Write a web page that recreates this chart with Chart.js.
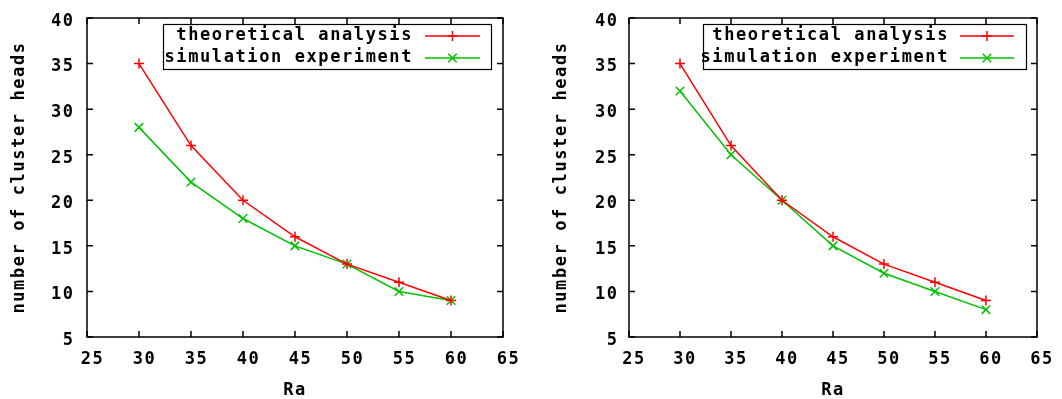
<!DOCTYPE html>
<html>
<head>
<meta charset="utf-8">
<script src="https://cdn.jsdelivr.net/npm/chart.js@4.4.0/dist/chart.umd.min.js"></script>
<style>
  html, body { margin: 0; padding: 0; background: #ffffff; }
  body { width: 1062px; height: 399px; position: relative; overflow: hidden; }
  .wrap { position: absolute; top: 0; height: 399px; }
</style>
</head>
<body>
<div class="wrap" style="left:0px;width:530px;"><canvas id="leftChart" width="530" height="399"></canvas></div>
<div class="wrap" style="left:530px;width:532px;"><canvas id="rightChart" width="532" height="399"></canvas></div>
<script>
// ---- data ----
const ra = [30, 35, 40, 45, 50, 55, 60];
const leftTheoretical = [35, 26, 20, 16, 13, 11, 9];
const leftSimulation = [28, 22, 18, 15, 13, 10, 9];
const rightTheoretical = [35, 26, 20, 16, 13, 11, 9];
const rightSimulation = [32, 25, 20, 15, 12, 10, 8];
const seriesLabels = ['theoretical analysis', 'simulation experiment'];
const xTitle = 'Ra';
const yTitle = 'number of cluster heads';
const xRange = [25, 65];
const yRange = [5, 40];
const tickStep = 5;

// ---- styles ----
const FONT_FAMILY = '"DejaVu Sans Mono", "Liberation Mono", monospace';
const FONT_SIZE = 17;
const LETTER_SPACING = '1.6px';
const RED = '#ff0000';
const GREEN = '#00c000';

function toPoints(xs, ys) { return xs.map((x, i) => ({ x: x, y: ys[i] })); }

function makeChart(canvasId, theo, sim, geo) {
  const ctx = document.getElementById(canvasId).getContext('2d');
  const spacingPlugin = {
    id: 'spacing',
    beforeLayout(chart) { chart.ctx.letterSpacing = LETTER_SPACING; },
    beforeDraw(chart) { chart.ctx.letterSpacing = LETTER_SPACING; }
  };
  const framePlugin = {
    id: 'frame',
    beforeDatasetsDraw(chart) {
      const c = chart.ctx;
      const a = chart.chartArea;
      const xs = chart.scales.x, ys = chart.scales.y;
      c.save();
      c.strokeStyle = '#000000';
      c.lineWidth = 1.5;
      c.strokeRect(a.left, a.top, a.right - a.left, a.bottom - a.top);
      const tl = 6;
      c.beginPath();
      xs.ticks.forEach(t => {
        const px = xs.getPixelForValue(t.value);
        c.moveTo(px, a.bottom); c.lineTo(px, a.bottom - tl);
        c.moveTo(px, a.top); c.lineTo(px, a.top + tl);
      });
      ys.ticks.forEach(t => {
        const py = ys.getPixelForValue(t.value);
        c.moveTo(a.left, py); c.lineTo(a.left + tl, py);
        c.moveTo(a.right, py); c.lineTo(a.right - tl, py);
      });
      c.stroke();
      c.restore();
    },
    afterDatasetsDraw(chart) {
      const c = chart.ctx;
      const L = geo.legend;
      c.save();
      c.letterSpacing = LETTER_SPACING;
      c.strokeStyle = '#000000';
      c.lineWidth = 1.2;
      c.strokeRect(L.box[0] + 0.5, L.box[1] + 0.5, L.box[2] - L.box[0], L.box[3] - L.box[1]);
      c.font = 'bold ' + FONT_SIZE + 'px ' + FONT_FAMILY;
      c.fillStyle = '#000000';
      c.textAlign = 'right';
      c.textBaseline = 'middle';
      chart.data.datasets.forEach((ds, i) => {
        const yy = L.rows[i];
        c.fillText(ds.label, L.textRight, yy);
        c.strokeStyle = ds.borderColor;
        c.lineWidth = 1.5;
        c.beginPath();
        c.moveTo(L.sample[0], yy); c.lineTo(L.sample[1], yy);
        c.stroke();
        const mx = (L.sample[0] + L.sample[1]) / 2, r = 5;
        c.beginPath();
        if (ds.pointStyle === 'cross') {
          c.moveTo(mx - r, yy); c.lineTo(mx + r, yy);
          c.moveTo(mx, yy - r); c.lineTo(mx, yy + r);
        } else {
          const d = 6 * 0.7071;
          c.moveTo(mx - d, yy - d); c.lineTo(mx + d, yy + d);
          c.moveTo(mx - d, yy + d); c.lineTo(mx + d, yy - d);
        }
        c.stroke();
      });
      c.restore();
    }
  };
  const tickFont = { family: FONT_FAMILY, size: FONT_SIZE, weight: 'bold' };
  return new Chart(ctx, {
    type: 'line',
    data: {
      datasets: [
        {
          label: seriesLabels[0],
          data: toPoints(ra, theo),
          borderColor: RED, backgroundColor: RED,
          borderWidth: 1.5, pointStyle: 'cross', pointRadius: 5,
          pointBorderWidth: 1.5, pointBorderColor: RED, tension: 0, fill: false
        },
        {
          label: seriesLabels[1],
          data: toPoints(ra, sim),
          borderColor: GREEN, backgroundColor: GREEN,
          borderWidth: 1.5, pointStyle: 'crossRot', pointRadius: 6,
          pointBorderWidth: 1.5, pointBorderColor: GREEN, tension: 0, fill: false
        }
      ]
    },
    options: {
      responsive: false,
      animation: false,
      devicePixelRatio: 1,
      layout: { padding: { left: 0, right: geo.width - geo.plotRight, top: 18, bottom: 0 } },
      plugins: { legend: { display: false }, tooltip: { enabled: false }, title: { display: false } },
      scales: {
        x: {
          type: 'linear', min: xRange[0], max: xRange[1],
          grid: { display: false }, border: { display: false },
          ticks: { stepSize: tickStep, font: tickFont, color: '#000000', padding: 4, labelOffset: geo.xLabelOffset, maxRotation: 0, autoSkip: false },
          title: { display: true, text: xTitle, font: tickFont, color: '#000000', padding: { top: 0, bottom: -2 } },
          afterFit(scale) { scale.height = 62; }
        },
        y: {
          type: 'linear', min: yRange[0], max: yRange[1],
          grid: { display: false }, border: { display: false },
          ticks: { stepSize: tickStep, font: tickFont, color: '#000000', padding: geo.yLabelPad, labelOffset: 3.5 },
          title: { display: true, text: yTitle, font: tickFont, color: '#000000', padding: { top: geo.yTitlePad, bottom: 0 } },
          afterFit(scale) { scale.width = geo.plotLeft; }
        }
      }
    },
    plugins: [spacingPlugin, framePlugin]
  });
}

makeChart('leftChart', leftTheoretical, leftSimulation, {
  width: 530, plotLeft: 87, plotRight: 503, yTitlePad: 9.5, yLabelPad: 4.4, xLabelOffset: 5.5,
  legend: { box: [163, 24, 491, 69], rows: [36, 58], textRight: 413, sample: [425, 480] }
});
makeChart('rightChart', rightTheoretical, rightSimulation, {
  width: 532, plotLeft: 99, plotRight: 507, yTitlePad: 21.5, yLabelPad: 2.4, xLabelOffset: 5,
  legend: { box: [173, 24, 496, 69], rows: [36, 58], textRight: 419, sample: [430, 484] }
});
</script>
</body>
</html>
